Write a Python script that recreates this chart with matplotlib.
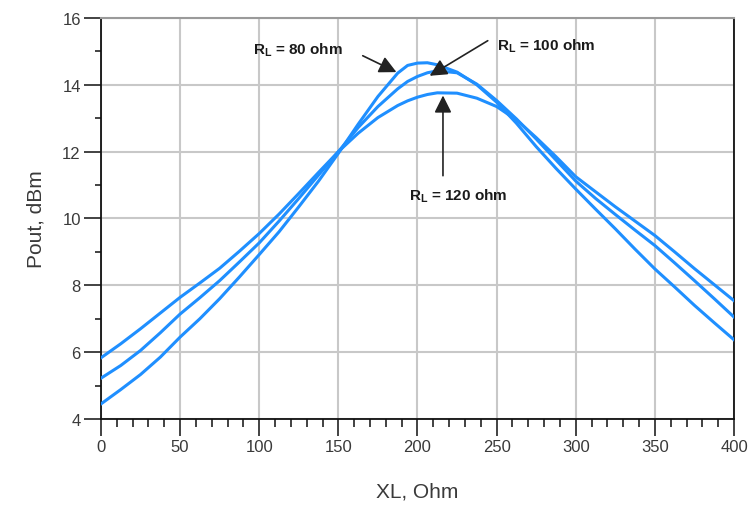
import matplotlib
matplotlib.use("Agg")
import matplotlib.pyplot as plt
from matplotlib.ticker import MultipleLocator

plt.rcParams['font.family'] = ['Liberation Sans', 'DejaVu Sans']
plt.rcParams['mathtext.fontset'] = 'custom'
plt.rcParams['mathtext.rm'] = 'Liberation Sans'
plt.rcParams['mathtext.bf'] = 'Liberation Sans:bold'

# Data
xl = [0, 12.5, 25, 37.5, 50, 62.5, 75, 87.5, 100, 112.5, 125, 137.5, 150, 162.5,
      175, 187.5, 193.75, 200, 206.25, 212.5, 225, 237.5, 250, 262.5, 275, 287.5,
      300, 312.5, 325, 337.5, 350, 362.5, 375, 387.5, 400]
pout_80 = [4.45, 4.88, 5.33, 5.85, 6.45, 7.0, 7.6, 8.25, 8.92, 9.6, 10.35, 11.12,
           11.95, 12.82, 13.65, 14.35, 14.58, 14.65, 14.66, 14.6, 14.38, 14.0,
           13.48, 12.85, 12.15, 11.5, 10.88, 10.28, 9.69, 9.08, 8.49, 7.95, 7.4,
           6.88, 6.37]
pout_100 = [5.22, 5.6, 6.05, 6.58, 7.14, 7.63, 8.14, 8.7, 9.27, 9.92, 10.6, 11.3,
            12.0, 12.72, 13.35, 13.88, 14.1, 14.25, 14.36, 14.42, 14.36, 14.02,
            13.53, 12.98, 12.38, 11.75, 11.12, 10.6, 10.12, 9.65, 9.19, 8.67,
            8.14, 7.6, 7.05]
pout_120 = [5.83, 6.25, 6.7, 7.17, 7.64, 8.07, 8.51, 9.02, 9.55, 10.13, 10.75,
            11.38, 12.0, 12.55, 13.02, 13.38, 13.52, 13.63, 13.71, 13.76, 13.75,
            13.6, 13.35, 12.95, 12.42, 11.85, 11.25, 10.8, 10.35, 9.92, 9.49,
            9.0, 8.5, 8.02, 7.54]

x_ticks = [0, 50, 100, 150, 200, 250, 300, 350, 400]
y_ticks = [4, 6, 8, 10, 12, 14, 16]

labels = [r'$\mathbf{R_L}$ = 80 ohm', r'$\mathbf{R_L}$ = 100 ohm', r'$\mathbf{R_L}$ = 120 ohm']

fig = plt.figure(figsize=(7.49, 5.06), dpi=100)
ax = fig.add_axes([0.1348, 0.17, 0.98 - 0.1348, 0.9625 - 0.17])

line_color = '#1f8fff'
for ys in (pout_80, pout_100, pout_120):
    ax.plot(xl, ys, color=line_color, lw=2.2, zorder=3, solid_joinstyle='round')

ax.set_xlim(0, 400)
ax.set_ylim(4, 16)
ax.set_xticks(x_ticks)
ax.set_yticks(y_ticks)
ax.xaxis.set_minor_locator(MultipleLocator(10))
ax.yaxis.set_minor_locator(MultipleLocator(1))
ax.grid(True, which='major', color='#c8c8c8', lw=1.5, zorder=0)

txt_color = '#3a3a3a'
ax.tick_params(axis='both', which='major', direction='out', length=12.5, width=1.2,
               color='#222222', labelsize=12, labelcolor=txt_color, pad=2)
ax.tick_params(axis='y', which='minor', direction='out', length=4, width=1.2, color='#222222')
ax.tick_params(axis='x', which='minor', direction='out', length=5.5, width=1.2, color='#222222')

for s in ('left', 'bottom', 'right'):
    ax.spines[s].set_color('#111111')
    ax.spines[s].set_linewidth(1.3)
ax.spines['top'].set_color('#9a9a9a')
ax.spines['top'].set_linewidth(1.5)

ax.set_xlabel('XL, Ohm', fontsize=15, color=txt_color, labelpad=20)
ax.set_ylabel('Pout, dBm', fontsize=15, color=txt_color, labelpad=12)

arrow_kw = dict(arrowstyle='-|>', mutation_scale=26, color='#222222', lw=1.2,
                shrinkA=0, shrinkB=0)
ax.text(96, 15.07, labels[0], fontsize=11, fontweight='bold', color='#1a1a1a',
        va='center', ha='left')
ax.annotate('', xy=(186.7, 14.38), xytext=(165.4, 14.87), arrowprops=arrow_kw)
ax.text(250, 15.19, labels[1], fontsize=11, fontweight='bold', color='#1a1a1a',
        va='center', ha='left')
ax.annotate('', xy=(207.7, 14.27), xytext=(244.4, 15.32), arrowprops=arrow_kw)
ax.text(194.5, 10.7, labels[2], fontsize=11, fontweight='bold', color='#1a1a1a',
        va='center', ha='left')
ax.annotate('', xy=(216.1, 13.68), xytext=(216.1, 11.28), arrowprops=arrow_kw)

fig.savefig('out.png', dpi=100)
